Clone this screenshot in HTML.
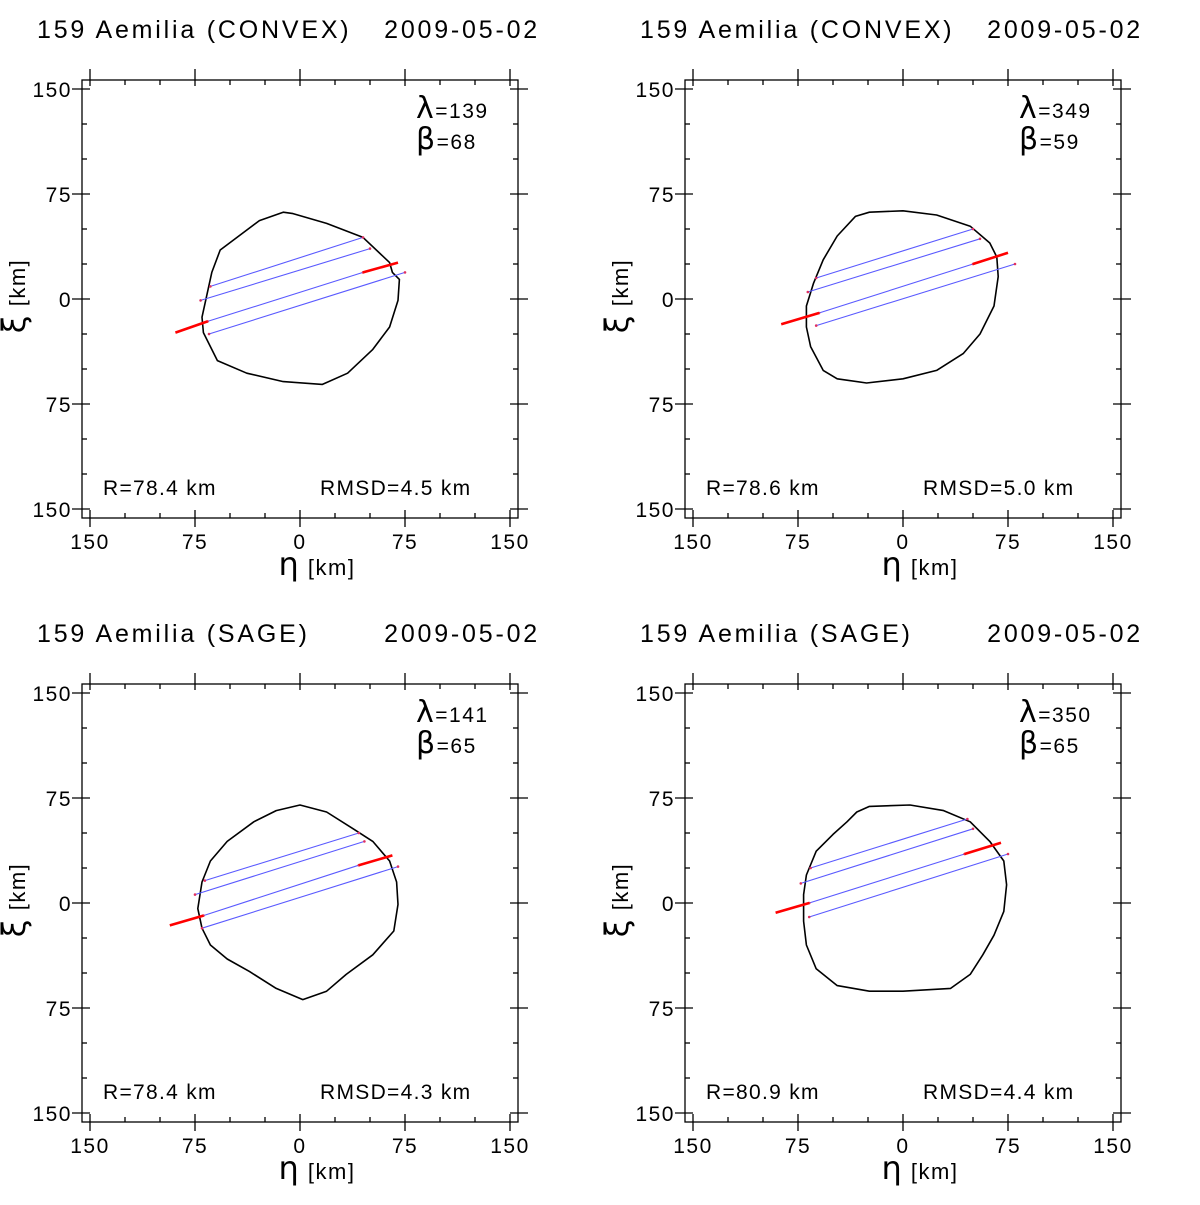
<!DOCTYPE html>
<html><head><meta charset="utf-8"><style>
body{margin:0;background:#fff;}
svg text{font-family:"Liberation Sans",sans-serif;fill:#000;}
</style></head><body>
<svg id="fig" width="1200" height="1200" viewBox="0 0 1200 1200" xmlns="http://www.w3.org/2000/svg"></svg>
<script>
// Panel titles and annotations
const titles = ["159 Aemilia  (CONVEX)", "159 Aemilia  (CONVEX)", "159 Aemilia  (SAGE)", "159 Aemilia  (SAGE)"];
const dates = ["2009-05-02", "2009-05-02", "2009-05-02", "2009-05-02"];
const lambdas = [139, 349, 141, 350];
const betas = [68, 59, 65, 65];
const radii = ["78.4", "78.6", "78.4", "80.9"];
const rmsds = ["4.5", "5.0", "4.3", "4.4"];
const tickValues = [-150, -75, 0, 75, 150];
const tickLabels = ["150", "75", "0", "75", "150"];
const minorTicks = [-125, -100, -50, -25, 25, 50, 100, 125];
// Shape contours [eta, xi] in km
const shapeTL = [[-12,62],[-29,56],[-57,35],[-63,19],[-70,-13],[-69,-24],[-59,-44],[-38,-53],[-12,-59],[16,-61],[34,-53],[52,-36],[64,-20],[70,-1],[71,14],[66,19],[64,26],[45,44],[19,54],[-5,61]];
const shapeTR = [[-34,59],[-24,62],[0,63],[24,60],[48,52],[62,40],[67,30],[68,16],[65,-5],[55,-25],[43,-39],[24,-51],[0,-57],[-26,-60],[-47,-57],[-57,-51],[-66,-34],[-69,-20],[-69,-5],[-64,11],[-57,28],[-47,45]];
const shapeBL = [[0,70],[-17,66],[-33,58],[-52,44],[-64,30],[-70,15],[-73,-4],[-70,-18],[-64,-30],[-52,-40],[-36,-49],[-17,-61],[2,-69],[19,-63],[33,-51],[52,-37],[67,-20],[70,-1],[69,15],[64,30],[52,44],[38,53],[19,65]];
const shapeBR = [[-24,69],[5,70],[29,66],[48,58],[62,44],[72,30],[74,13],[72,-6],[65,-23],[57,-37],[48,-51],[34,-61],[0,-63],[-24,-63],[-47,-59],[-62,-47],[-69,-30],[-71,-13],[-71,6],[-69,20],[-62,37],[-50,49],[-40,58],[-33,65]];
// Chords: [eta1, xi1, eta2, xi2]
const blueTL = [[-64,9,45,44],[-71,-1,50,36],[-66,-16,45,19],[-65,-25,75,19]];
const redTL = [[-89,-24,-66,-16],[45,19,70,26]];
const blueTR = [[-62,15,50,50],[-68,5,55,43],[-60,-10,50,25],[-62,-19,80,25]];
const redTR = [[-87,-18,-60,-10],[50,25,75,33]];
const blueBL = [[-68,16,42,50],[-75,6,46,44],[-69,-9,42,27],[-70,-18,70,26]];
const redBL = [[-93,-16,-69,-9],[42,27,66,34]];
const blueBR = [[-66,25,46,60],[-73,14,50,53],[-67,0,44,35],[-67,-10,75,35]];
const redBR = [[-91,-7,-67,0],[44,35,70,43]];

const shapes = [shapeTL, shapeTR, shapeBL, shapeBR];
const blues = [blueTL, blueTR, blueBL, blueBR];
const reds = [redTL, redTR, redBL, redBR];
const offX = [0, 603, 0, 603];
const offY = [0, 0, 604, 604];

const NS = "http://www.w3.org/2000/svg";
const svg = document.getElementById('fig');
function mk(tag, attrs, parent, text) {
  const e = document.createElementNS(NS, tag);
  for (const k in attrs) e.setAttribute(k, attrs[k]);
  if (text !== undefined) e.textContent = text;
  parent.appendChild(e);
  return e;
}
const S = 1.4;
for (let p = 0; p < 4; p++) {
  const ox = offX[p], oy = offY[p];
  const cx = 300 + ox, cy = 299 + oy;
  const X = v => cx + v * S, Y = v => cy - v * S;
  const g = mk('g', {}, svg);
  
  
  const t = mk('text', {x: 37 + ox, y: 38 + oy, 'font-size': 25, 'letter-spacing': 2.8, 'xml:space': 'preserve'}, g, titles[p]);
  
  
  const d = mk('text', {x: 540 + ox, y: 38 + oy, 'font-size': 25, 'letter-spacing': 2.8, 'text-anchor': 'end'}, g, dates[p]);
  
  
  const L = 82 + ox, R = 518 + ox, T = 80 + oy, B = 518 + oy;
  const box = mk('rect', {x: L, y: T, width: R - L, height: B - T, fill: 'none', stroke: '#000', 'stroke-width': 1.3}, g);
  
  
  const ax = mk('g', {stroke: '#000', 'stroke-width': 1.3}, g);
  
  
  tickValues.forEach((v, i) => {
    mk('line', {x1: X(v), y1: T - 11, x2: X(v), y2: T + 6}, ax);
    mk('line', {x1: X(v), y1: B - 8, x2: X(v), y2: B + 9}, ax);
    mk('line', {x1: L - 10, y1: Y(v), x2: L + 8, y2: Y(v)}, ax);
    mk('line', {x1: R - 8, y1: Y(v), x2: R + 10, y2: Y(v)}, ax);
    const xl = mk('text', {x: X(v), y: 549 + oy, 'font-size': 21, 'letter-spacing': 1.5, 'text-anchor': 'middle', stroke: 'none'}, g, tickLabels[i]);
    
    
    const yl = mk('text', {x: 72 + ox, y: Y(v) + 8, 'font-size': 21, 'letter-spacing': 1.5, 'text-anchor': 'end', stroke: 'none'}, g, tickLabels[4 - i]);
    
    
  });
  minorTicks.forEach(v => {
    mk('line', {x1: X(v), y1: T, x2: X(v), y2: T + 5}, ax);
    mk('line', {x1: X(v), y1: B, x2: X(v), y2: B - 5}, ax);
    mk('line', {x1: L, y1: Y(v), x2: L + 5, y2: Y(v)}, ax);
    mk('line', {x1: R, y1: Y(v), x2: R - 5, y2: Y(v)}, ax);
  });
  const xt = mk('text', {x: 317 + ox, y: 575 + oy, 'font-size': 22, 'letter-spacing': 1.5, 'text-anchor': 'middle', 'xml:space': 'preserve'}, g);
  
  
  mk('tspan', {'font-size': 32, 'font-family': 'DejaVu Sans, sans-serif'}, xt, 'η');
  mk('tspan', {}, xt, '  [km]');
  const yt = mk('text', {x: 0, y: 0, 'font-size': 22, 'letter-spacing': 1.5, 'text-anchor': 'middle', 'xml:space': 'preserve', transform: `translate(${25 + ox},${296 + oy}) rotate(-90)`}, g);
  
  
  mk('tspan', {'font-size': 32, 'font-family': 'DejaVu Sans, sans-serif'}, yt, 'ξ');
  mk('tspan', {}, yt, '  [km]');
  const lt = mk('text', {x: 416 + ox, y: 118 + oy, 'font-size': 21, 'letter-spacing': 1.5}, g);
  
  
  mk('tspan', {'font-size': 30, 'font-family': 'DejaVu Sans, sans-serif'}, lt, 'λ');
  mk('tspan', {}, lt, '=' + lambdas[p]);
  const bt = mk('text', {x: 416 + ox, y: 149 + oy, 'font-size': 21, 'letter-spacing': 1.5}, g);
  
  
  mk('tspan', {'font-size': 30, 'font-family': 'DejaVu Sans, sans-serif'}, bt, 'β');
  mk('tspan', {}, bt, '=' + betas[p]);
  const rt = mk('text', {x: 103 + ox, y: 495 + oy, 'font-size': 21, 'letter-spacing': 1.3, 'xml:space': 'preserve'}, g, 'R=' + radii[p] + ' km');
  
  
  const mt = mk('text', {x: 320 + ox, y: 495 + oy, 'font-size': 21, 'letter-spacing': 1.3, 'xml:space': 'preserve'}, g, 'RMSD=' + rmsds[p] + ' km');
  
  
  const pts = shapes[p].map(q => X(q[0]).toFixed(1) + ',' + Y(q[1]).toFixed(1)).join(' ');
  const sh = mk('polygon', {points: pts, fill: 'none', stroke: '#000', 'stroke-width': 1.6, 'stroke-linejoin': 'round'}, g);
  
  
  blues[p].forEach(c => {
    const l = mk('line', {x1: X(c[0]), y1: Y(c[1]), x2: X(c[2]), y2: Y(c[3]), stroke: '#5a5aff', 'stroke-width': 1.1}, g);
    
    
    mk('circle', {cx: X(c[0]), cy: Y(c[1]), r: 1.3, fill: '#e03060'}, g);
    mk('circle', {cx: X(c[2]), cy: Y(c[3]), r: 1.3, fill: '#e03060'}, g);
  });
  reds[p].forEach(c => {
    const l = mk('line', {x1: X(c[0]), y1: Y(c[1]), x2: X(c[2]), y2: Y(c[3]), stroke: '#ff0000', 'stroke-width': 2.6}, g);
    
    
  });
}
</script>
</body></html>
